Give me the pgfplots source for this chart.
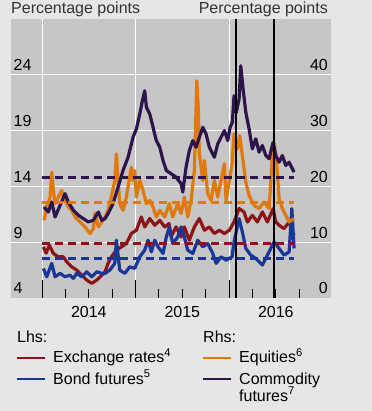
\documentclass[border=0pt]{standalone}
\usepackage{pgfplots}
\pgfplotsset{compat=1.18}
\usepackage{fontspec}
\setmainfont{Liberation Sans}
\definecolor{bgc}{RGB}{230,230,230}
\definecolor{plotc}{RGB}{198,198,198}
\definecolor{cred}{RGB}{140,20,25}
\definecolor{cblue}{RGB}{25,55,150}
\definecolor{corange}{RGB}{225,120,10}
\definecolor{cpurple}{RGB}{45,20,75}
\definecolor{hdr}{RGB}{50,50,50}
\newcommand{\fs}{\fontsize{16bp}{19bp}\selectfont}
\begin{document}
\begin{tikzpicture}
\useasboundingbox (0,0) rectangle (372bp,411bp);
\fill[bgc] (0,0) rectangle (372bp,411bp);
\pgfplotsset{base/.style={at={(11bp,113bp)}, anchor=south west, width=320bp, height=279bp,
  scale only axis, xmin=2013.668, xmax=2017.09, axis line style={draw=none},
  /pgf/number format/assume math mode=true, tick label style={font=\fs}},
  dat/.style={line width=3.2bp, line join=round, no markers},
  avg/.style={line width=3bp, dash pattern=on 8bp off 5bp, no markers}}
% left axis: background, grid, ticks, red and blue
\begin{axis}[base, ymin=4, ymax=29, axis background/.style={fill=plotc},
  xtick={2014,2015,2016}, xticklabels={},
  minor xtick={2014.25,2014.75,2015.25,2015.75,2016.25,2016.75},
  extra x ticks={2014.5,2015.5,2016.5}, extra x tick labels={2014,2015,2016},
  extra x tick style={grid=none, major tick length=9bp},
  xmajorgrids, grid style={white, line width=1bp},
  tick align=inside, xtick pos=bottom, major tick length=18bp, minor tick length=9bp,
  xtick style={black, line width=1bp},
  xticklabel style={anchor=base, inner sep=0pt, yshift=-20bp},
  ytick={9,14,19,24}, ymajorgrids, extra y ticks={4}, extra y tick style={grid=none},
  ytick style={draw=none}, ytick pos=left, yticklabel pos=left,
  yticklabel style={anchor=base west, inner sep=0pt, xshift=2.5bp, yshift=4bp}]
\addplot[dat, cred] coordinates {(2014.014,8.58) (2014.043,8.02) (2014.078,8.73) (2014.121,7.99) (2014.174,7.69) (2014.228,7.69) (2014.264,7.24) (2014.318,6.79) (2014.371,6.50) (2014.425,6.05) (2014.478,5.61) (2014.532,5.31) (2014.585,5.61) (2014.639,6.05) (2014.674,6.35) (2014.706,7.10) (2014.741,7.69) (2014.795,8.29) (2014.848,8.58) (2014.902,8.88) (2014.955,9.78) (2015.009,10.07) (2015.062,11.26) (2015.098,10.37) (2015.152,11.12) (2015.205,10.52) (2015.259,10.96) (2015.312,10.37) (2015.358,10.67) (2015.380,9.47) (2015.433,10.37) (2015.487,9.47) (2015.522,10.37) (2015.575,9.18) (2015.629,10.37) (2015.682,11.12) (2015.736,10.07) (2015.789,10.37) (2015.843,9.78) (2015.896,10.07) (2015.950,9.78) (2016.003,10.07) (2016.053,10.81) (2016.107,12.01) (2016.160,11.71) (2016.196,10.81) (2016.249,11.41) (2016.303,10.81) (2016.356,11.71) (2016.410,10.81) (2016.471,12.01) (2016.499,10.81) (2016.535,10.52) (2016.588,10.22) (2016.642,10.81) (2016.695,9.63)};
\addplot[dat, cblue] coordinates {(2014.014,6.65) (2014.050,5.90) (2014.104,7.10) (2014.139,5.90) (2014.193,6.21) (2014.246,5.90) (2014.299,6.05) (2014.335,5.76) (2014.371,6.21) (2014.425,5.90) (2014.478,6.35) (2014.532,5.90) (2014.585,6.35) (2014.639,6.21) (2014.674,6.20) (2014.724,6.50) (2014.778,7.10) (2014.795,9.18) (2014.831,6.50) (2014.885,6.21) (2014.938,6.79) (2014.991,6.65) (2015.045,7.69) (2015.098,8.29) (2015.134,9.18) (2015.169,8.13) (2015.205,9.18) (2015.241,8.58) (2015.294,7.99) (2015.329,9.47) (2015.361,10.37) (2015.398,8.88) (2015.451,9.47) (2015.487,10.37) (2015.522,9.47) (2015.558,8.29) (2015.612,7.99) (2015.665,9.18) (2015.719,8.58) (2015.772,8.88) (2015.826,7.99) (2015.861,7.10) (2015.914,7.69) (2015.968,7.39) (2016.032,7.69) (2016.053,9.03) (2016.107,11.12) (2016.142,9.92) (2016.179,8.44) (2016.232,7.84) (2016.286,7.54) (2016.356,6.95) (2016.410,7.84) (2016.481,9.03) (2016.535,8.44) (2016.588,7.84) (2016.642,8.13) (2016.671,12.01) (2016.695,8.44)};
\end{axis}
% right axis: orange and purple
\begin{axis}[base, ymin=0, ymax=50, xtick=\empty,
  ytick={0,10,20,30,40}, ytick style={draw=none}, ytick pos=right, yticklabel pos=right,
  yticklabel style={anchor=base east, inner sep=0pt, xshift=-3bp, yshift=4bp}]
\addplot[dat, corange] coordinates {(2014.021,13.93) (2014.050,16.30) (2014.086,18.04) (2014.104,22.55) (2014.121,19.29) (2014.139,16.96) (2014.174,18.09) (2014.211,19.29) (2014.228,17.86) (2014.246,17.50) (2014.281,16.30) (2014.318,15.71) (2014.353,14.52) (2014.388,13.93) (2014.425,13.34) (2014.460,12.73) (2014.513,11.55) (2014.549,12.45) (2014.567,15.18) (2014.602,12.73) (2014.639,13.63) (2014.674,14.52) (2014.706,15.71) (2014.741,18.09) (2014.778,21.07) (2014.795,25.84) (2014.813,21.07) (2014.831,16.91) (2014.866,15.71) (2014.902,18.09) (2014.955,23.45) (2014.973,21.07) (2014.991,22.86) (2015.009,18.09) (2015.045,21.07) (2015.080,19.29) (2015.116,16.91) (2015.152,17.50) (2015.187,16.30) (2015.222,14.52) (2015.259,15.71) (2015.312,14.52) (2015.361,16.91) (2015.398,14.52) (2015.451,16.91) (2015.487,15.13) (2015.522,18.09) (2015.558,14.52) (2015.594,17.50) (2015.629,22.86) (2015.655,38.93) (2015.672,33.57) (2015.682,25.84) (2015.719,21.07) (2015.736,24.64) (2015.772,18.70) (2015.807,17.50) (2015.843,21.07) (2015.879,18.09) (2015.914,21.07) (2015.950,24.05) (2015.968,17.50) (2016.003,21.07) (2016.032,24.05) (2016.053,29.41) (2016.089,26.73) (2016.114,29.11) (2016.142,25.54) (2016.179,20.77) (2016.214,18.39) (2016.267,16.61) (2016.321,16.02) (2016.374,17.20) (2016.428,16.02) (2016.463,25.54) (2016.481,27.91) (2016.506,24.95) (2016.535,17.80) (2016.570,16.02) (2016.606,14.82) (2016.642,13.63) (2016.695,14.23)};
\addplot[dat, cpurple] coordinates {(2014.021,16.30) (2014.067,15.41) (2014.104,17.20) (2014.139,14.52) (2014.193,16.61) (2014.246,18.70) (2014.281,17.20) (2014.335,15.71) (2014.388,14.82) (2014.442,14.23) (2014.495,13.63) (2014.549,13.93) (2014.602,15.41) (2014.639,13.93) (2014.674,14.23) (2014.706,15.13) (2014.759,16.91) (2014.813,19.88) (2014.866,22.86) (2014.920,25.23) (2014.973,28.80) (2015.009,30.30) (2015.045,32.98) (2015.073,35.36) (2015.098,37.14) (2015.116,34.16) (2015.152,32.98) (2015.187,30.59) (2015.222,28.21) (2015.259,27.02) (2015.294,24.64) (2015.329,22.86) (2015.380,22.27) (2015.433,21.66) (2015.487,20.48) (2015.505,18.98) (2015.540,23.45) (2015.575,26.43) (2015.612,28.21) (2015.647,27.02) (2015.682,28.80) (2015.719,30.59) (2015.754,29.41) (2015.789,27.02) (2015.843,25.23) (2015.879,27.63) (2015.914,28.80) (2015.950,30.00) (2015.986,28.21) (2016.011,30.59) (2016.035,31.48) (2016.053,36.25) (2016.078,33.27) (2016.107,35.66) (2016.125,41.61) (2016.150,37.45) (2016.179,33.27) (2016.214,30.30) (2016.249,26.73) (2016.286,28.52) (2016.321,26.13) (2016.356,27.32) (2016.393,25.54) (2016.428,24.95) (2016.471,27.91) (2016.499,25.54) (2016.535,24.34) (2016.570,25.54) (2016.606,23.75) (2016.642,24.34) (2016.695,22.55)};
\addplot[avg, corange] coordinates {(2014.0,17.1) (2016.695,17.1)};
\addplot[avg, cpurple] coordinates {(2014.0,21.55) (2016.695,21.55)};
\end{axis}
% left scale overlay: averages and event lines
\begin{axis}[base, ymin=4, ymax=29, hide axis]
\addplot[avg, cred] coordinates {(2014.0,8.9) (2016.695,8.9)};
\addplot[avg, cblue] coordinates {(2014.0,7.57) (2016.695,7.57)};
\addplot[black, line width=1.2bp, no markers] coordinates {(2016.075,4) (2016.075,29)};
\addplot[black, line width=1.2bp, no markers] coordinates {(2016.481,4) (2016.481,29)};
\end{axis}
% headers
\node[anchor=base west, inner sep=0pt, font=\fs, text=hdr] at (11bp,397bp) {Percentage points};
\node[anchor=base east, inner sep=0pt, font=\fs, text=hdr] at (328bp,397bp) {Percentage points};
% legend
\node[anchor=base west, inner sep=0pt, font=\fs] at (17bp,68bp) {Lhs:};
\node[anchor=base west, inner sep=0pt, font=\fs] at (203bp,68bp) {Rhs:};
\draw[cred, line width=2.7bp] (17bp,53bp) -- (45bp,53bp);
\node[anchor=base west, inner sep=0pt, font=\fs] at (53bp,48bp) {Exchange rates\textsuperscript{4}};
\draw[cblue, line width=2.7bp] (17bp,32bp) -- (45bp,32bp);
\node[anchor=base west, inner sep=0pt, font=\fs] at (53bp,27bp) {Bond futures\textsuperscript{5}};
\draw[corange, line width=2.7bp] (203bp,53bp) -- (231bp,53bp);
\node[anchor=base west, inner sep=0pt, font=\fs] at (239bp,48bp) {Equities\textsuperscript{6}};
\draw[cpurple, line width=2.7bp] (203bp,32bp) -- (231bp,32bp);
\node[anchor=base west, inner sep=0pt, font=\fs] at (239bp,27bp) {Commodity};
\node[anchor=base west, inner sep=0pt, font=\fs] at (239bp,10bp) {futures\textsuperscript{7}};
\end{tikzpicture}
\end{document}
